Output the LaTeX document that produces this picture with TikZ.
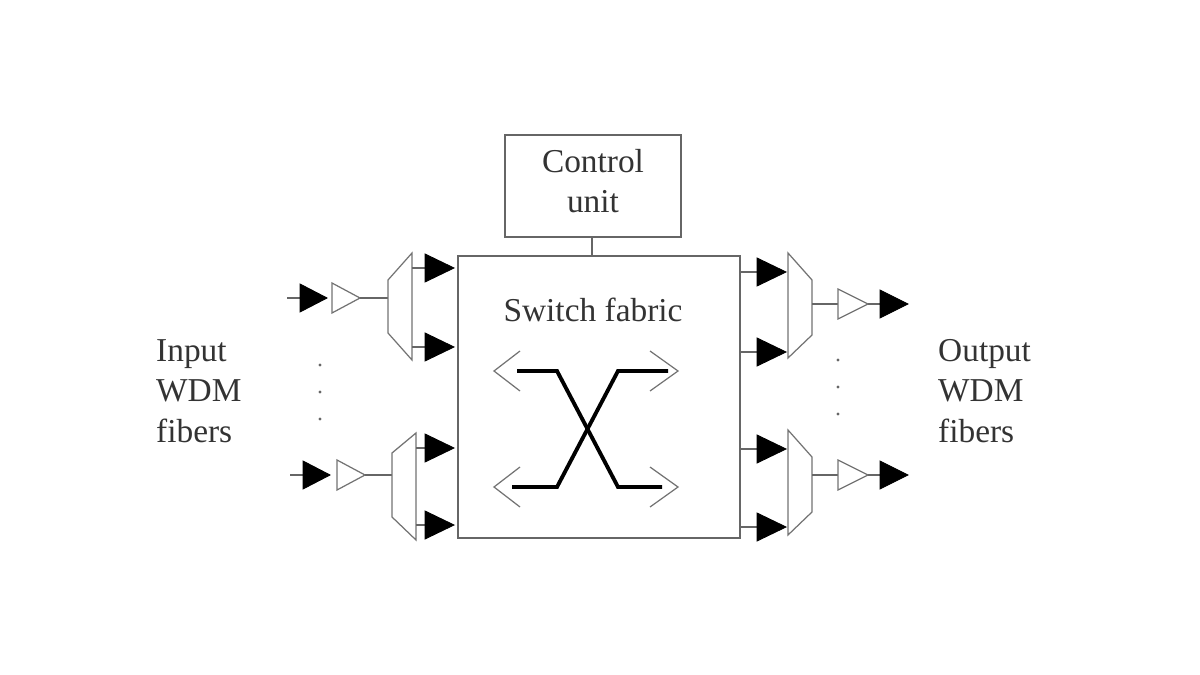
\documentclass[tikz,border=0pt]{standalone}
\usepackage{fontspec}
\setmainfont{Liberation Serif}
\begin{document}
\begin{tikzpicture}[x=0.02cm,y=-0.02cm,
  ln/.style={draw=black!60,line width=0.7pt},
  blk/.style={fill=black,draw=black,line width=0.5pt},
  hol/.style={draw=black!55,fill=white,line width=0.7pt},
  txt/.style={font=\fontsize{19}{23}\selectfont,text=black!80}]
\useasboundingbox (0,0) rectangle (1200,675);
% boxes
\draw[ln] (505,135) rectangle (681,237);
\node[txt,align=center] (cu) at (593,181) {Control\\unit};
\draw[ln] (458,256) rectangle (740,538);
\node[txt] (sf) at (593,310) {Switch fabric};
\draw[ln] (592,237) -- (592,256);
% crossing
\draw[line width=2.2pt] (517,371) -- (557,371) -- (618,487) -- (662,487);
\draw[line width=2.2pt] (512,487) -- (557,487) -- (618,371) -- (668,371);
\foreach \y in {371,487}{
  \draw[draw=black!55,line width=0.7pt] (520,\y-20) -- (494,\y) -- (520,\y+20);
  \draw[draw=black!55,line width=0.7pt] (650,\y-20) -- (678,\y) -- (650,\y+20);
}
% input branches
\newcommand\inb[8]{% y, arrowx0, amp x0, demux left x, demux l-top, l-bot, r-top, r-bot
}
% top input
\foreach \y/\ax/\mx/\dl/\dr/\lt/\lb/\rt/\rb/\oa/\ob in
  {298/300/332/388/412/280/333/253/360/268/347,
   475/303/337/392/416/453/517/433/540/448/525}{
  \draw[ln] (\ax-13,\y) -- (\ax,\y);
  \fill[blk] (\ax,\y-14) -- (\ax+27,\y) -- (\ax,\y+14) -- cycle;
  \draw[hol] (\mx,\y-15) -- (\mx+28,\y) -- (\mx,\y+15) -- cycle;
  \draw[ln] (\mx+28,\y) -- (\dl,\y);
  \draw[hol] (\dl,\lt) -- (\dr,\rt) -- (\dr,\rb) -- (\dl,\lb) -- cycle;
  \foreach \o in {\oa,\ob}{
    \draw[ln] (\dr,\o) -- (425,\o);
    \fill[blk] (425,\o-14) -- (454,\o) -- (425,\o+14) -- cycle;
  }
}
% output branches
\foreach \y/\lt/\lb/\rt/\rb/\oa/\ob in
  {304/253/358/280/335/272/352,
   475/430/535/457/512/449/527}{
  \foreach \o in {\oa,\ob}{
    \draw[ln] (740,\o) -- (757,\o);
    \fill[blk] (757,\o-14) -- (786,\o) -- (757,\o+14) -- cycle;
  }
  \draw[hol] (788,\lt) -- (812,\rt) -- (812,\rb) -- (788,\lb) -- cycle;
  \draw[ln] (812,\y) -- (838,\y);
  \draw[hol] (838,\y-15) -- (868,\y) -- (838,\y+15) -- cycle;
  \draw[ln] (868,\y) -- (880,\y);
  \fill[blk] (880,\y-14) -- (908,\y) -- (880,\y+14) -- cycle;
}
% dots
\foreach \y in {365,392,419} \fill[black!60] (320,\y) circle (1.6);
\foreach \y in {360,387,414} \fill[black!60] (838,\y) circle (1.6);
% labels
\node[txt,align=left,anchor=west] (in) at (150,391) {Input\\WDM\\fibers};
\node[txt,align=left,anchor=west] (out) at (932,391) {Output\\WDM\\fibers};
\end{tikzpicture}
\end{document}
